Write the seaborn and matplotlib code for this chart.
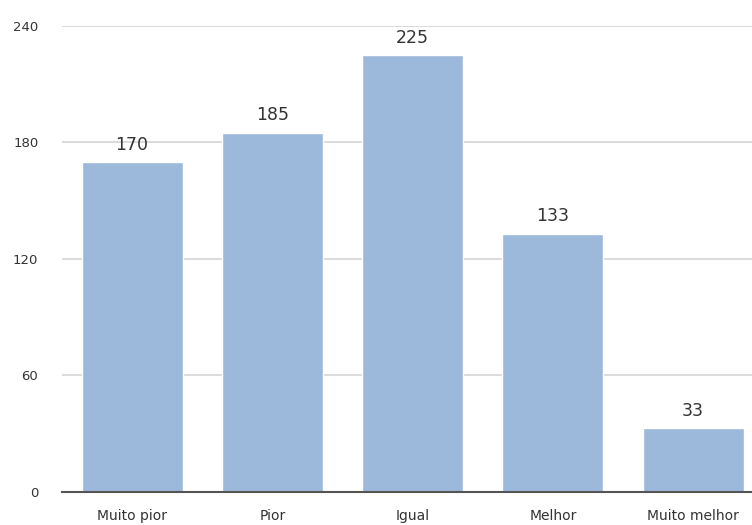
import matplotlib
matplotlib.use("Agg")
import matplotlib.pyplot as plt
import seaborn as sns
import pandas as pd

categories = ["Muito pior", "Pior", "Igual", "Melhor", "Muito melhor"]
values = [170, 185, 225, 133, 33]
yticks = [0, 60, 120, 180, 240]

sns.set_theme(style="white")
plt.rcParams['font.family'] = ['DejaVu Sans']

df = pd.DataFrame({"cat": categories, "val": values})

fig = plt.figure(figsize=(7.52, 5.25), dpi=100)
ax = fig.add_axes([0.0824, 0.0629, 0.9176, 0.8876])

sns.barplot(data=df, x="cat", y="val", color="#9cb8da", saturation=1, width=0.72, ax=ax, zorder=3)

ax.set_ylim(0, 240)
ax.set_xlim(-0.5, 4.42)
ax.set_yticks(yticks)
ax.set_yticklabels([str(t) for t in yticks], fontsize=9.5, color="#333333")
ax.yaxis.grid(True, color="#d4d4d4", linewidth=1.2, zorder=0)
ax.set_axisbelow(True)
for s in ["top", "right", "left"]:
    ax.spines[s].set_visible(False)
ax.spines["bottom"].set_color("#555555")
ax.spines["bottom"].set_linewidth(1.5)
ax.spines["bottom"].set_zorder(4)
ax.tick_params(axis="y", length=0, pad=17)
ax.tick_params(axis="x", length=0, pad=12, labelsize=10, labelcolor="#333333")
ax.set_xlabel("")
ax.set_ylabel("")

for c in ax.containers:
    ax.bar_label(c, labels=[str(v) for v in values], padding=6, fontsize=12.5, color="#333333")

fig.savefig("out.png", dpi=100)
